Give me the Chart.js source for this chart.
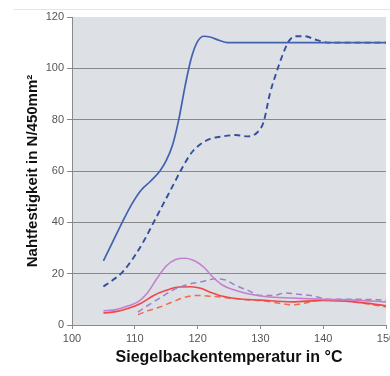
<!DOCTYPE html>
<html><head><meta charset="utf-8">
<script src="https://cdn.jsdelivr.net/npm/chart.js@4/dist/chart.umd.min.js"></script>
<style>
html,body{margin:0;padding:0;background:#fff;overflow:hidden;width:390px;height:376px;}
#wrap{position:absolute;left:0;top:0;width:400px;height:376px;}
#topline{position:absolute;left:14px;top:9px;width:376px;height:1px;background:#e4e4e4;}
</style></head>
<body>
<div id="wrap"><canvas id="c" width="400" height="376"></canvas></div>
<div id="topline"></div>
<script>
const yTicks = [0, 20, 40, 60, 80, 100, 120];
const xTicks = [100, 110, 120, 130, 140, 150];

const blueSolidX = [105,106.5,108,109.5,111,112.5,114,115,116,117,118,119,120,121,122,123,125,130,140,150];
const blueSolidY = [25,32.5,40,47,52.5,56,60,64,70,80,93,104,110.5,112.5,112.2,111.3,110,110,110,110];

const blueDashX = [105,106.5,108,110,111.5,113,114.5,116,117.5,119,120.5,122,124,126,128,129.5,130.5,131.5,132.5,133.5,134.5,135.5,137,139,141,145,150];
const blueDashY = [15,17.5,20.5,27,33,40,47,54,61,67,70.5,72.5,73.5,74,73.5,75,79,90,98,105,110.5,112.5,112.5,111,110,110,110];

const violetSolidX = [105,107,109,110.5,112,113.5,115,116.5,118,119.5,121,122.5,124,126,128,131,135,140,145,150];
const violetSolidY = [5.5,6,7.5,9,12.5,18,23,25.5,26,25,22.5,18.5,15.5,13.5,12.2,11,10.5,10,9.7,9];

const violetDashX = [110.5,112,114,116,118,120.5,123,124.5,126,128,130,132,134,136,138,141,146,150];
const violetDashY = [5,7.5,10.5,13.5,15.5,16.8,18,17.5,15.5,13.5,11.5,11.5,12.5,12,11.5,10,10,9.7];

const redSolidX = [105,107,109,111,113,115,117,119,120.5,122,124,126,130,135,140,145,150];
const redSolidY = [4.7,5.2,6.5,8.5,11.5,13.5,14.8,14.9,14.3,12.8,11.2,10.3,9.7,9,9.6,9,7.5];

const redDashX = [110.5,112,114,116,118,120,122,124,127,130,133,135,137,140,143,146,150];
const redDashY = [4,5.5,7,9,10.8,11.5,11.2,10.8,10,9.5,8.5,7.8,8.5,9.8,9.5,8.6,7];

const pts = (xs, ys) => xs.map((x, i) => ({x: x, y: ys[i]}));

const bgPlugin = {
  id: 'bg',
  beforeDraw(chart) {
    const a = chart.chartArea, ctx = chart.ctx;
    ctx.save();
    ctx.fillStyle = '#dde0e4';
    ctx.fillRect(a.left, a.top, a.right - a.left, a.bottom - a.top);
    ctx.restore();
  }
};

function ds(data, color, dashed, width) {
  return {
    data: data, borderColor: color, borderWidth: width || 1.6,
    borderDash: dashed ? [6, 4] : [], pointRadius: 0, fill: false,
    cubicInterpolationMode: 'monotone', tension: 0.4
  };
}

new Chart(document.getElementById('c'), {
  type: 'line',
  data: {
    datasets: [
      ds(pts(blueSolidX, blueSolidY), '#4262b0', false, 1.7),
      ds(pts(blueDashX, blueDashY), '#33509c', true, 1.9),
      ds(pts(violetSolidX, violetSolidY), '#c480cc', false, 1.6),
      ds(pts(violetDashX, violetDashY), '#9a80d0', true, 1.5),
      ds(pts(redSolidX, redSolidY), '#f04848', false, 1.6),
      ds(pts(redDashX, redDashY), '#f06a52', true, 1.5)
    ]
  },
  options: {
    responsive: false, animation: false,
    layout: { padding: { top: 17, right: 14, left: 0, bottom: 0 } },
    plugins: { legend: { display: false }, tooltip: { enabled: false } },
    scales: {
      x: {
        type: 'linear', min: 100, max: 150,
        afterBuildTicks(s) { s.ticks = xTicks.map(v => ({value: v})); },
        afterFit(s) { s.height = 51; },
        grid: { drawOnChartArea: false, tickLength: 4, color: '#8a8a8a' },
        border: { color: '#8a8a8a', width: 1 },
        ticks: { color: '#555', font: { family: 'Liberation Sans', size: 11 }, padding: 3, maxRotation: 0 },
        title: { display: true, text: 'Siegelbackentemperatur in °C', color: '#111',
          font: { family: 'Liberation Sans', size: 16, weight: 'bold' }, padding: { top: 0, bottom: 9 } }
      },
      y: {
        min: 0, max: 120,
        afterBuildTicks(s) { s.ticks = yTicks.map(v => ({value: v})); },
        afterFit(s) { s.width = 72; },
        grid: { tickLength: 5, color: c => (c.tick && c.tick.value === 120) ? 'rgba(0,0,0,0)' : '#888', tickColor: '#888' },
        border: { color: '#8a8a8a', width: 1 },
        ticks: { color: '#555', font: { family: 'Liberation Sans', size: 11 }, padding: 3 },
        title: { display: true, text: 'Nahtfestigkeit in N/450mm²', color: '#111',
          font: { family: 'Liberation Sans', size: 15, weight: 'bold' }, padding: { top: 24, bottom: 0 } }
      }
    }
  },
  plugins: [bgPlugin]
});
</script>
</body></html>
